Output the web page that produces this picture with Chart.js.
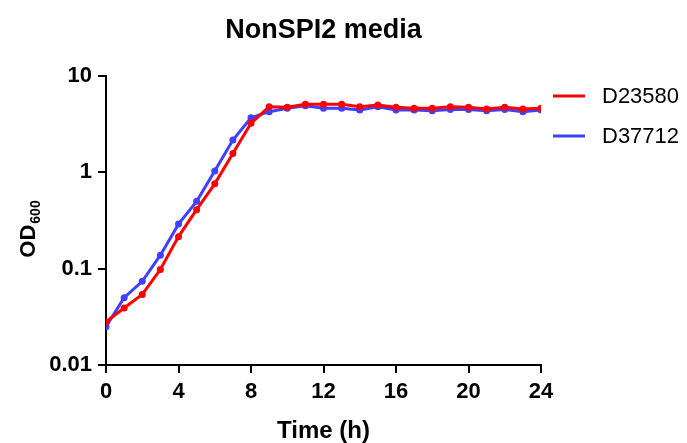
<!DOCTYPE html>
<html>
<head>
<meta charset="utf-8">
<script src="https://cdn.jsdelivr.net/npm/chart.js@4.4.1/dist/chart.umd.min.js"></script>
<style>
  html, body { margin: 0; padding: 0; background: #fff; }
  #wrap { width: 687px; height: 443px; }
</style>
</head>
<body>
<div id="wrap"><canvas id="myChart"></canvas></div>
<script>
// growth curves, OD600 per hour
var hours = [0, 1, 2, 3, 4, 5, 6, 7, 8, 9, 10, 11, 12, 13, 14, 15, 16, 17, 18, 19, 20, 21, 22, 23, 24];
var d23580 = [0.028, 0.039, 0.054, 0.098, 0.215, 0.41, 0.76, 1.57, 3.23, 4.8, 4.73, 5.08, 5.08, 5.08, 4.8, 5.0, 4.73, 4.62, 4.62, 4.8, 4.73, 4.54, 4.73, 4.54, 4.62];
var d37712 = [0.025, 0.05, 0.074, 0.138, 0.29, 0.5, 1.03, 2.16, 3.69, 4.26, 4.62, 4.9, 4.62, 4.62, 4.43, 4.8, 4.43, 4.43, 4.36, 4.5, 4.5, 4.36, 4.5, 4.26, 4.43];
var yTicks = [0.01, 0.1, 1, 10];
var xTicks = [0, 4, 8, 12, 16, 20, 24];

var FONT = '"Liberation Sans", Arial, sans-serif';

function pts(vals) {
    var out = [];
    for (var i = 0; i < hours.length; i++) {
        out.push({ x: hours[i], y: vals[i] });
    }
    return out;
}

// OD with subscript 600, rotated
var yTitle = {
    id: 'yTitle',
    afterDraw: function (chart) {
        var ctx = chart.ctx;
        var a = chart.chartArea;
        ctx.save();
        ctx.translate(35, (a.top + a.bottom) / 2 + 9);
        ctx.rotate(-Math.PI / 2);
        ctx.fillStyle = '#000';
        ctx.textBaseline = 'alphabetic';
        ctx.font = 'bold 22px ' + FONT;
        var w1 = ctx.measureText('OD').width;
        ctx.font = 'bold 14px ' + FONT;
        var w2 = ctx.measureText('600').width;
        var x0 = -(w1 + w2) / 2;
        ctx.font = 'bold 22px ' + FONT;
        ctx.fillText('OD', x0, 0);
        ctx.font = 'bold 14px ' + FONT;
        ctx.fillText('600', x0 + w1 + 1, 5);
        ctx.restore();
    }
};

// legend with short lines, right of the plot
var sideLegend = {
    id: 'sideLegend',
    afterDraw: function (chart) {
        var ctx = chart.ctx;
        var a = chart.chartArea;
        ctx.save();
        ctx.font = '22px ' + FONT;
        ctx.textBaseline = 'middle';
        chart.data.datasets.forEach(function (ds, i) {
            var y = a.top + 20 + i * 40;
            ctx.strokeStyle = ds.borderColor;
            ctx.lineWidth = 3;
            ctx.beginPath();
            ctx.moveTo(a.right + 12, y);
            ctx.lineTo(a.right + 44, y);
            ctx.stroke();
            ctx.fillStyle = '#000';
            ctx.fillText(ds.label, a.right + 61, y + 1);
        });
        ctx.restore();
    }
};

var axisColor = '#000';

new Chart(document.getElementById('myChart'), {
    type: 'line',
    data: {
        datasets: [{
            label: 'D23580',
            data: pts(d23580),
            borderColor: '#ff0000',
            backgroundColor: '#ff0000',
            borderWidth: 3,
            pointRadius: 3.5,
            pointBorderWidth: 0,
            tension: 0
        }, {
            label: 'D37712',
            data: pts(d37712),
            borderColor: '#4040ff',
            backgroundColor: '#4040ff',
            borderWidth: 3,
            pointRadius: 3.5,
            pointBorderWidth: 0,
            tension: 0
        }]
    },
    options: {
        responsive: true,
        maintainAspectRatio: false,
        animation: false,
        layout: { padding: { top: 0, right: 146, left: 0, bottom: 0 } },
        plugins: {
            title: {
                display: true,
                fullSize: false,
                text: 'NonSPI2 media',
                color: '#000',
                font: { family: FONT, size: 27, weight: 'bold', lineHeight: 1.2 },
                padding: { top: 14, bottom: 29.6 }
            },
            legend: { display: false },
            tooltip: { enabled: false }
        },
        scales: {
            x: {
                type: 'linear',
                min: 0,
                max: 24,
                afterBuildTicks: function (s) { s.ticks = xTicks.map(function (v) { return { value: v }; }); },
                afterFit: function (s) { s.height = 78; },
                border: { color: axisColor, width: 2 },
                grid: { drawOnChartArea: false, drawTicks: true, tickLength: 8, color: axisColor, lineWidth: 2 },
                ticks: {
                    color: '#000',
                    padding: 6,
                    maxRotation: 0,
                    font: { family: FONT, size: 22, weight: 'bold' }
                },
                title: {
                    display: true,
                    text: 'Time (h)',
                    color: '#000',
                    padding: { top: 0, bottom: 0 },
                    font: { family: FONT, size: 24, weight: 'bold', lineHeight: 1 }
                }
            },
            y: {
                type: 'logarithmic',
                min: 0.01,
                max: 10,
                afterBuildTicks: function (s) { s.ticks = yTicks.map(function (v) { return { value: v }; }); },
                afterFit: function (s) { s.width = 106; },
                border: { color: axisColor, width: 2 },
                grid: { drawOnChartArea: false, drawTicks: true, tickLength: 8, color: axisColor, lineWidth: 2 },
                ticks: {
                    color: '#000',
                    padding: 6,
                    callback: function (v) { return String(v); },
                    font: { family: FONT, size: 22, weight: 'bold' }
                }
            }
        }
    },
    plugins: [yTitle, sideLegend]
});
</script>
</body>
</html>
